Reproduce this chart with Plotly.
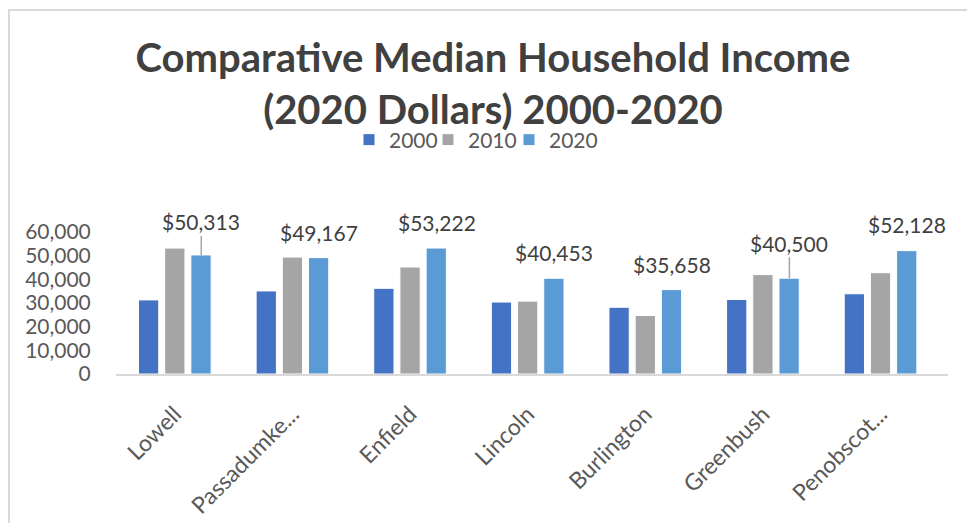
import plotly.graph_objects as go

categories = ["Lowell", "Passadumke...", "Enfield", "Lincoln", "Burlington", "Greenbush", "Penobscot..."]
years = ["2000", "2010", "2020"]
income_2000 = [31300, 35100, 36200, 30400, 28200, 31500, 33900]
income_2010 = [53200, 49400, 45200, 30800, 24700, 42000, 42800]
income_2020 = [50313, 49167, 53222, 40453, 35658, 40500, 52128]
y_ticks = [0, 10000, 20000, 30000, 40000, 50000, 60000]

colors = ["#4472C4", "#A5A5A5", "#5B9BD5"]
# style: vertical lift (px) of each 2020 label and whether it has a leader line
label_lift = [33, 25, 26, 26, 25, 35, 26]
leader = [True, False, False, False, False, True, False]
legend_left_px = [349, 428, 509]

W, H = 967, 523
L, R, T, B = 116, 19, 232, 149
plot_w = W - L - R
plot_h = H - T - B
BARGAP = 0.332
BARGROUPGAP = 0.226

legend_ids = ["legend", "legend2", "legend3"]

fig = go.Figure()
for name, vals, col, lid in zip(years, [income_2000, income_2010, income_2020], colors, legend_ids):
    fig.add_trace(go.Bar(
        x=categories, y=vals, name=name, legend=lid, showlegend=True,
        marker=dict(color=col, line=dict(color="white", width=1)),
    ))

cat_w = plot_w / len(categories)
shift = cat_w * (1 - BARGAP) / 3
annotations = []
for c, v, lift, ld in zip(categories, income_2020, label_lift, leader):
    txt = "${:,.0f}".format(v)
    if ld:
        annotations.append(dict(
            x=c, y=v, xref="x", yref="y", text=txt, xshift=shift,
            showarrow=True, arrowhead=0, arrowwidth=1.5, arrowcolor="#A6A6A6",
            ax=0, ay=-lift, standoff=0,
            font=dict(family="Lato", size=21, color="#404040"),
        ))
    else:
        annotations.append(dict(
            x=c, y=v, xref="x", yref="y", text=txt, xshift=shift, yshift=lift,
            showarrow=False, yanchor="middle",
            font=dict(family="Lato", size=21, color="#404040"),
        ))

legend_layouts = {}
for lid, lx in zip(legend_ids, legend_left_px):
    legend_layouts[lid] = dict(
        orientation="h", x=(lx - L) / plot_w, xanchor="left",
        y=(H - B - 140) / plot_h, yanchor="middle",
        font=dict(family="Lato", size=21, color="#595959"),
        itemwidth=30, bgcolor="rgba(0,0,0,0)", visible=True,
    )

fig.update_layout(
    width=W, height=H,
    showlegend=True,
    margin=dict(l=L, r=R, t=T, b=B, autoexpand=False),
    paper_bgcolor="white", plot_bgcolor="white",
    barmode="group", bargap=BARGAP, bargroupgap=BARGROUPGAP,
    font=dict(family="Lato", color="#595959"),
    title=dict(
        text="Comparative Median Household Income<br>(2020 Dollars) 2000-2020",
        x=493 / W, xref="container", xanchor="center",
        y=1 - 72 / H, yref="container", yanchor="top",
        font=dict(family="Lato", size=40, color="#404040", weight="bold"),
    ),
    xaxis=dict(
        showline=True, linecolor="#D9D9D9", linewidth=1.5,
        tickangle=-45, tickfont=dict(family="Lato", size=23, color="#595959"),
        ticks="outside", ticklen=16, tickcolor="rgba(0,0,0,0)",
        showgrid=False, fixedrange=True, automargin=False,
    ),
    yaxis=dict(
        range=[0, 60000], tickvals=y_ticks, tickformat=",",
        showgrid=False, zeroline=False, showline=False,
        tickfont=dict(family="Lato", size=21, color="#595959"),
        ticks="outside", ticklen=20, tickcolor="rgba(0,0,0,0)",
        automargin=False,
    ),
    annotations=annotations,
    shapes=[dict(
        type="rect", xref="paper", yref="paper",
        x0=(9 - L) / plot_w, x1=(W + 10 - L) / plot_w,
        y0=-(B + 10) / plot_h, y1=(H - B - 10) / plot_h,
        line=dict(color="#D9D9D9", width=2), fillcolor="rgba(0,0,0,0)", layer="below",
    )],
    **legend_layouts,
)

fig.write_html("out.html", config={"displayModeBar": False},
               post_script="document.body.style.margin='0';")
